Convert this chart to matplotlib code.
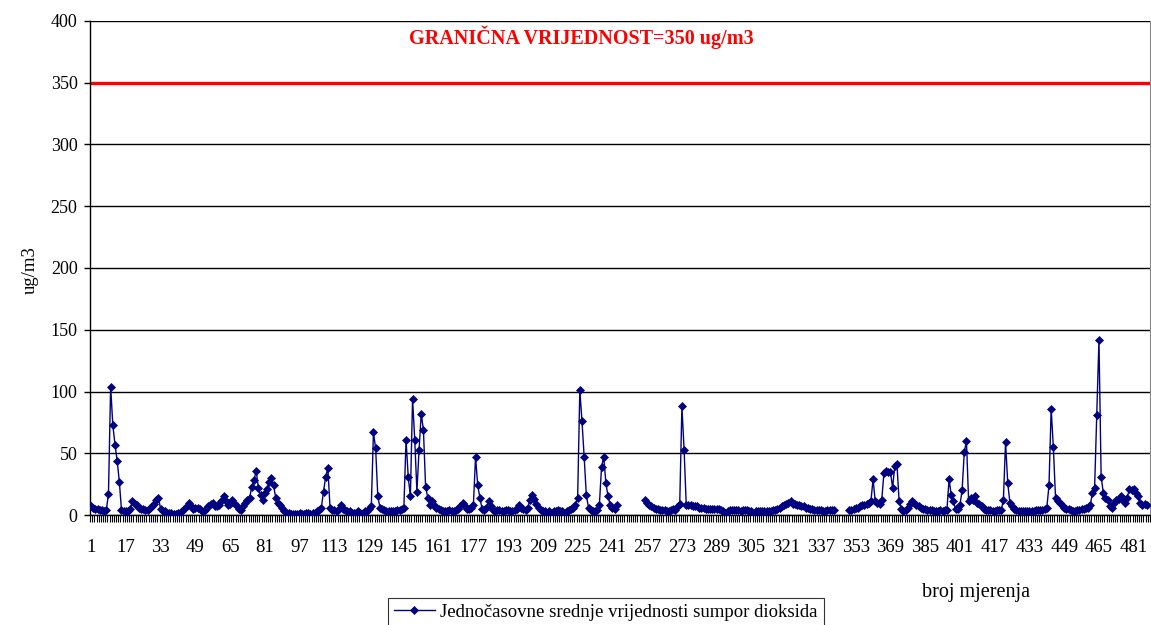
import numpy as np
import matplotlib
matplotlib.use("Agg")
import matplotlib.pyplot as plt
from matplotlib.ticker import MultipleLocator, FixedLocator

plt.rcParams['font.family'] = ['Liberation Serif', 'DejaVu Serif']

nan = np.nan
# jednočasovne srednje vrijednosti SO2 (ug/m3), mjerenja 1..487
so2 = [
    7, 6, 5, 5, 4, 4, 3, 4, 17, 104,
    73, 57, 44, 27, 4, 3, 3, 3, 5, 11,
    9, 8, 6, 5, 5, 4, 4, 6, 7, 9,
    12, 14, 5, 3, 3, 2, 2, 2, 1, 1,
    2, 2, 3, 5, 7, 10, 7, 5, 6, 6,
    5, 3, 3, 5, 7, 9, 10, 7, 7, 8,
    11, 15, 11, 8, 9, 12, 10, 7, 5, 4,
    7, 10, 12, 14, 23, 28, 36, 22, 16, 12,
    18, 21, 27, 30, 24, 14, 10, 8, 6, 3,
    2, 2, 1, 1, 1, 1, 2, 1, 1, 2,
    2, 1, 2, 2, 3, 4, 6, 19, 31, 38,
    6, 4, 4, 3, 5, 8, 5, 4, 3, 3,
    2, 2, 2, 3, 2, 2, 3, 3, 5, 7,
    67, 54, 15, 6, 5, 4, 3, 3, 3, 3,
    3, 4, 4, 5, 6, 61, 31, 15, 94, 61,
    19, 53, 82, 69, 23, 14, 8, 11, 8, 6,
    5, 4, 3, 3, 3, 4, 3, 3, 4, 5,
    7, 10, 7, 5, 5, 6, 8, 47, 24, 14,
    5, 4, 6, 11, 7, 4, 3, 4, 4, 3,
    3, 4, 4, 3, 3, 4, 5, 8, 6, 5,
    4, 6, 12, 16, 13, 9, 6, 4, 3, 3,
    2, 3, 2, 3, 3, 4, 3, 3, 2, 3,
    4, 5, 6, 8, 14, 101, 76, 47, 16, 6,
    4, 3, 3, 4, 8, 39, 47, 26, 15, 8,
    6, 5, 8, nan, nan, nan, nan, nan, nan, nan,
    nan, nan, nan, nan, nan, 12, 10, 8, 7, 6,
    5, 5, 4, 4, 4, 3, 3, 4, 5, 4,
    7, 9, 88, 53, 8, 8, 8, 7, 7, 7,
    6, 6, 6, 5, 5, 5, 5, 5, 5, 5,
    4, 3, 2, 3, 4, 4, 4, 4, 4, 3,
    4, 4, 4, 3, 3, 2, 3, 3, 3, 3,
    3, 3, 3, 3, 4, 4, 5, 6, 7, 8,
    9, 10, 11, 9, 9, 8, 8, 7, 7, 6,
    6, 5, 5, 4, 4, 4, 4, 3, 3, 4,
    4, 4, 4, nan, nan, nan, nan, nan, nan, 4,
    4, 5, 6, 6, 7, 8, 8, 9, 10, 11,
    29, 11, 10, 9, 12, 34, 36, 35, 35, 22,
    40, 41, 11, 5, 3, 4, 6, 9, 11, 10,
    8, 7, 6, 5, 5, 4, 4, 4, 3, 3,
    3, 4, 3, 4, 4, 29, 16, 11, 5, 5,
    8, 20, 51, 60, 11, 14, 12, 15, 10, 9,
    7, 5, 4, 4, 4, 3, 3, 4, 4, 4,
    12, 59, 26, 10, 7, 5, 4, 3, 3, 3,
    3, 3, 3, 3, 3, 4, 4, 4, 4, 5,
    6, 24, 86, 55, 14, 11, 10, 8, 6, 5,
    5, 4, 3, 3, 4, 4, 5, 5, 6, 6,
    8, 18, 22, 81, 142, 31, 18, 14, 12, 7,
    6, 10, 12, 13, 15, 12, 10, 14, 21, 20,
    21, 18, 15, 10, 8, 9, 8,
]
mjerenja = np.arange(1, len(so2) + 1)
granica = 350
n_kat = 488
oznake = list(range(1, 482, 16))

fig = plt.figure(figsize=(11.51, 6.25), dpi=100)
ax = fig.add_axes([90 / 1151, 1 - 515 / 625, 1060 / 1151, 494 / 625])

ax.set_ylim(0, 400)
ax.set_xlim(0.5, n_kat + 0.5)
ax.yaxis.set_major_locator(MultipleLocator(50))
ax.grid(axis='y', color='black', linewidth=1)
ax.set_axisbelow(True)

ax.axhline(granica, color='#ff0000', linewidth=2.4, zorder=2)
ax.plot(mjerenja, so2, color='#000080', linewidth=1, marker='D',
        markersize=4.5, markeredgewidth=0.5,
        label='Jednočasovne srednje vrijednosti sumpor dioksida', zorder=3)

ax.xaxis.set_major_locator(FixedLocator(oznake))
ax.xaxis.set_minor_locator(FixedLocator(np.arange(0.5, n_kat + 1, 1)))
ax.tick_params(axis='x', which='major', length=0, pad=17, labelsize=13.5)
ax.tick_params(axis='x', which='minor', length=5, width=0.8, color='black')
ax.tick_params(axis='y', length=4, width=1, pad=5, labelsize=13)

ax.spines['top'].set_visible(False)
ax.spines['right'].set_color('#888888')
ax.spines['left'].set_linewidth(1)
ax.spines['bottom'].set_linewidth(1)

ax.text(0.464, 0.968, 'GRANIČNA VRIJEDNOST=350 ug/m3', transform=ax.transAxes,
        color='#ff0000', fontsize=14.5, fontweight='bold', ha='center', va='center')
fig.text(30 / 1151, 1 - 270 / 625, 'ug/m3', rotation=90, fontsize=13.5,
         ha='center', va='center')
fig.text(976 / 1151, 1 - 592 / 625, 'broj mjerenja', fontsize=14.5,
         ha='center', va='center')

leg = fig.legend(loc='upper left', bbox_to_anchor=(388 / 1151, 1 - 598 / 625),
                 fontsize=13.5, frameon=True, fancybox=False, borderpad=0.3,
                 handlelength=2.2, handletextpad=0.3, borderaxespad=0)
leg.get_frame().set_edgecolor('black')
leg.get_frame().set_linewidth(0.8)

fig.savefig('out.png', dpi=100)
